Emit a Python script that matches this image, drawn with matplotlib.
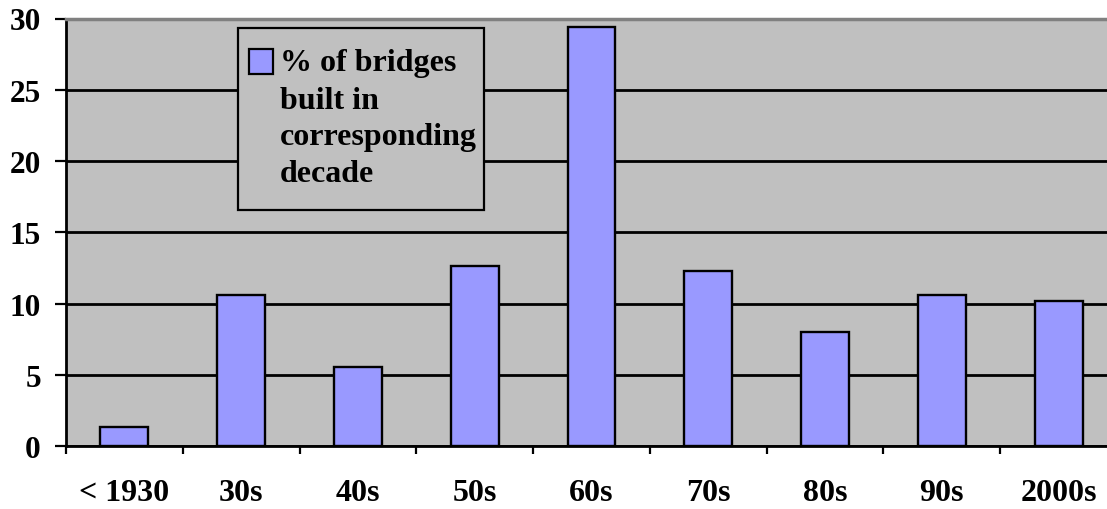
import matplotlib
matplotlib.use("Agg")
import matplotlib.pyplot as plt
from matplotlib.patches import Rectangle

categories = ["< 1930", "30s", "40s", "50s", "60s", "70s", "80s", "90s", "2000s"]
values = [1.3, 10.6, 5.55, 12.65, 29.4, 12.3, 8.0, 10.6, 10.2]
yticks = [0, 5, 10, 15, 20, 25, 30]
legend_lines = ["% of bridges", "built in", "corresponding", "decade"]

plt.rcParams['font.family'] = ['Liberation Serif', 'DejaVu Serif']
plt.rcParams['font.weight'] = 'bold'

W, H = 1107, 510
fig = plt.figure(figsize=(W / 100, H / 100), dpi=100)
fig.patch.set_facecolor('white')

ax = fig.add_axes([66 / W, (H - 447) / H, 1051 / W, 427.5 / H])
ax.set_facecolor('#C0C0C0')

x = list(range(len(categories)))
ax.bar(x, values, width=0.41, color='#9999FF', edgecolor='black', linewidth=1.7, zorder=3)

ax.set_xlim(-0.5, len(categories) - 0.5)
ax.set_ylim(0, 30)

ax.set_yticks(yticks)
ax.set_yticklabels([str(t) for t in yticks], fontsize=22.5, fontweight='bold')
ax.tick_params(axis='y', direction='out', length=8, width=1.6, pad=10)

# major ticks at category boundaries, labels at centers (minor)
ax.set_xticks([i - 0.5 for i in range(len(categories) + 1)])
ax.set_xticklabels([])
ax.tick_params(axis='x', which='major', direction='out', length=6, width=1.6)
ax.set_xticks(x, minor=True)
ax.set_xticklabels(categories, minor=True, fontsize=23, fontweight='bold')
ax.tick_params(axis='x', which='minor', length=0, pad=23)

ax.set_axisbelow(True)
ax.yaxis.grid(True, color='black', linewidth=2)
ax.xaxis.grid(False)

for s in ['left', 'bottom']:
    ax.spines[s].set_color('black')
    ax.spines[s].set_linewidth(2)
ax.spines['top'].set_color('#808080')
ax.spines['top'].set_linewidth(2.5)
ax.spines['right'].set_color('#808080')
ax.spines['right'].set_linewidth(2.5)

# legend box (manual, mimicking Excel legend)
box = Rectangle((238 / W, 1 - 211 / H), (484 - 238) / W, (211 - 29) / H,
                transform=fig.transFigure, facecolor='#C0C0C0', edgecolor='black',
                linewidth=1.6, zorder=10)
fig.patches.append(box)
sq = Rectangle((249 / W, 1 - 75 / H), 24 / W, 25 / H, transform=fig.transFigure,
               facecolor='#9999FF', edgecolor='black', linewidth=1.6, zorder=11)
fig.patches.append(sq)
line_y = [64, 102, 138, 174]
for txt, yy in zip(legend_lines, line_y):
    fig.text(280 / W, 1 - yy / H, txt, fontsize=23, fontweight='bold',
             ha='left', va='center', zorder=12)

fig.savefig('out.png', dpi=100)
